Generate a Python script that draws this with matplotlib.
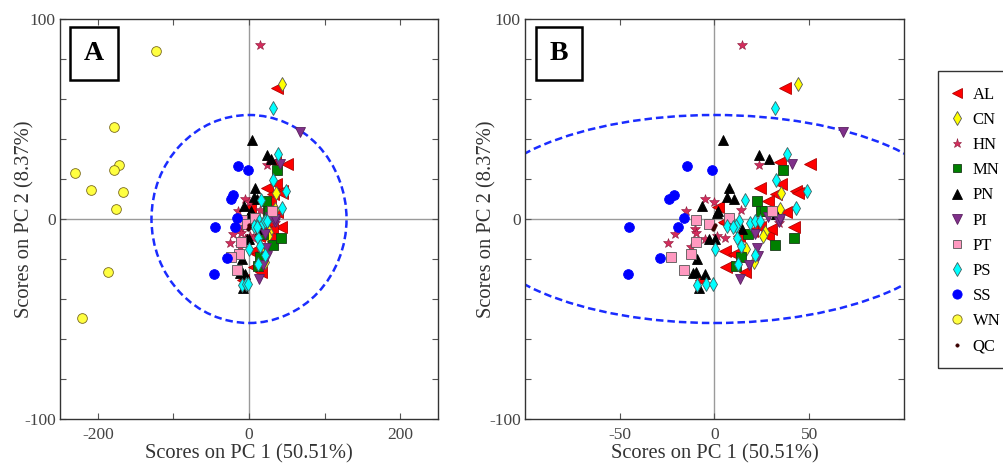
import numpy as np
import matplotlib
matplotlib.use("Agg")
import matplotlib.pyplot as plt
import matplotlib.patches as ptc

plt.rcParams['font.family'] = ['Liberation Serif', 'DejaVu Serif']
plt.rcParams['axes.unicode_minus'] = False

# PCA scores, one pair of lists per group (PC1, PC2)
al_x = [37.1, 34.4, 50.3, 24.0, 35.3, 43.0, 43.9, 32.4, 28.3, 37.5, 42.0, 1.9, 5.7, 4.9,
        5.5, 10.1, 6.0, 15.9, 23.8, 28.0, 12.8, -7.3, 20.0, 30.0]
al_y = [65.7, 28.4, 27.6, 15.6, 17.6, 14.2, 12.9, 12.5, 9.2, 3.7, -3.8, 5.8, -2.2, -1.7,
        -16.2, -17.6, -24.2, -26.3, -4.2, -8.4, -8.4, -30.3, -6.0, -5.0]
cn_x = [43.9, 35.3, 34.7, 26.9, 25.6, 16.5, 20.7]
cn_y = [67.7, 12.9, 5.0, -6.4, -8.4, -15.0, -21.7]
hn_x = [14.3, 23.6, -5.1, -0.4, -15.2, -24.7, -21.1, -10.1, -10.0, -12.5, -5.1, 1.1, 5.7, 13.9, 33.9]
hn_y = [87.0, 26.8, 9.9, 8.7, 3.8, -11.9, -7.5, -5.0, -6.8, -13.9, -9.9, -8.7, -9.5, 4.5, -2.2]
mn_x = [36.4, 22.3, 24.7, 26.5, 17.9, 32.0, 42.0, 14.1, 11.3]
mn_y = [24.7, 8.9, 3.8, 4.0, -7.5, -12.9, -9.7, -19.2, -23.7]
pn_x = [4.6, 23.6, 28.7, 7.9, 6.8, 10.1, -6.4, 1.5, 2.0, 14.6, 32.5, -2.7, 0.2, -9.0, -11.5,
        -9.5, -4.9, -8.2]
pn_y = [39.3, 31.8, 29.8, 15.6, 10.9, 10.0, 6.4, 3.0, 4.0, -5.0, 2.5, -10.0, -10.0, -20.0, -26.8,
        -26.5, -27.6, -34.6]
pi_x = [68.0, 40.8, 34.2, 28.3, 34.5, 21.4, 22.5, 23.2, 18.3, 13.3]
pi_y = [43.5, 27.3, -1.7, 1.0, 0.0, -7.5, -14.5, -18.4, -22.9, -29.8]
pt_x = [-9.7, -2.7, 7.5, -10.0, -12.6, -23.2, -16.3, 30.2]
pt_y = [-0.5, -2.5, 0.5, -11.4, -17.6, -18.9, -25.6, 4.2]
ps_x = [32.0, 38.0, 32.4, 49.0, 43.0, 16.3, 13.0, 11.2, 6.6, 18.8, 21.6, 11.9, 14.1, 21.2,
        12.4, 0.4, -9.3, -4.6, -0.7, 10.0, 24.0]
ps_y = [55.7, 32.6, 19.6, 13.9, 5.4, 9.7, -0.8, -3.3, -3.3, -2.2, -0.8, -9.7, -13.4, -17.9,
        -22.6, -15.0, -33.1, -32.3, -32.3, -4.0, -1.0]
ss_x = [-14.3, -1.5, -24.2, -21.4, -16.1, -19.0, -44.9, -28.8, -45.8]
ss_y = [26.4, 24.6, 10.0, 12.0, 0.3, -3.8, -3.8, -19.6, -27.6]
wn_x = [-122.6, -178.5, -229.9, -171.4, -178.5, -208.4, -166.6, -175.4, -185.9, -221.5]
wn_y = [84.0, 46.2, 22.9, 27.2, 24.7, 14.5, 13.7, 5.2, -26.7, -49.6]
qc_x = [-0.5, 0.3, -1.0]
qc_y = [-4.0, -3.0, -5.0]

# 95% confidence ellipse semi-axes
ell_a = 129
ell_b = 52

groups = [
    ('AL', al_x, al_y, dict(marker='<', ms=8, mfc='#ff0000', mec='#b00000', mew=0.6)),
    ('CN', cn_x, cn_y, dict(marker='d', ms=7.5, mfc='#ffff00', mec='#555555', mew=0.6)),
    ('HN', hn_x, hn_y, dict(marker='*', ms=7, mfc='#d42c5c', mec='#8a1a3a', mew=0.4)),
    ('MN', mn_x, mn_y, dict(marker='s', ms=6.5, mfc='#008000', mec='#1a3a1a', mew=0.6)),
    ('PN', pn_x, pn_y, dict(marker='^', ms=7.5, mfc='#000000', mec='#000000', mew=0.6)),
    ('PI', pi_x, pi_y, dict(marker='v', ms=7.5, mfc='#80308a', mec='#5a2060', mew=0.6)),
    ('PT', pt_x, pt_y, dict(marker='s', ms=6.5, mfc='#ff99c0', mec='#555555', mew=0.6)),
    ('PS', ps_x, ps_y, dict(marker='d', ms=7.5, mfc='#00ffff', mec='#406060', mew=0.6)),
    ('SS', ss_x, ss_y, dict(marker='o', ms=7, mfc='#0000ff', mec='#0000ff', mew=0.6)),
    ('WN', wn_x, wn_y, dict(marker='o', ms=7, mfc='#ffff40', mec='#7a6a20', mew=0.6)),
    ('QC', qc_x, qc_y, dict(marker='o', ms=2.5, mfc='#3a0000', mec='#3a0000', mew=0.5)),
]

fig = plt.figure(figsize=(10.04, 4.68), dpi=100)
axA = fig.add_axes([60/1004, 1-419/468, 378/1004, 400/468])
axB = fig.add_axes([525/1004, 1-419/468, 379/1004, 400/468])


def draw(ax, xlim, xt, xlab, letter, ylx):
    ax.axhline(0, color='#9a9a9a', lw=1, zorder=1)
    ax.axvline(0, color='#9a9a9a', lw=1, zorder=1)
    e = ptc.Ellipse((0, 0), 2*ell_a, 2*ell_b, fill=False, ls=(0, (3, 1.6)),
                    color='#1a2cff', lw=1.8, zorder=2)
    ax.add_patch(e)
    handles = []
    for name, gx, gy, st in groups:
        h, = ax.plot(gx, gy, ls='none', label=name, zorder=3, **st)
        handles.append(h)
    ax.set_xlim(*xlim)
    ax.set_ylim(-100, 100)
    ax.set_xticks(xt)
    ax.set_xticklabels(xlab)
    yt = np.arange(-100, 101, 20)
    ax.set_yticks(yt)
    ax.set_yticklabels(['-100' if v == -100 else '0' if v == 0 else '100' if v == 100 else ''
                        for v in yt])
    ax.tick_params(direction='in', top=True, right=True, length=4, width=0.8,
                   color='#555555', labelcolor='#444444', labelsize=12.5)
    ax.tick_params(axis='x', pad=6)
    ax.tick_params(axis='y', pad=3)
    for s in ax.spines.values():
        s.set_color('#333333')
        s.set_linewidth(1.0)
    ax.set_xlabel('Scores on PC 1 (50.51%)', fontsize=14.8, color='#333333', labelpad=1)
    ax.set_ylabel('Scores on PC 2 (8.37%)', fontsize=14.8, color='#333333')
    ax.yaxis.set_label_coords(ylx, 0.5)
    ax.text(0.09, 0.914, letter, transform=ax.transAxes, fontsize=20, fontweight='bold',
            ha='center', va='center', zorder=6,
            bbox=dict(boxstyle='square,pad=0.5', fc='white', ec='black', lw=1.8))
    return handles


draw(axA, (-250, 250), [-200, -100, 0, 100, 200], ['-200', '', '0', '', '200'], 'A', -0.068)
hs = draw(axB, (-100, 100), [-50, 0, 50], ['-50', '0', '50'], 'B', -0.075)

# legend at the right, frame runs off the edge
fig.patches.append(ptc.Rectangle((938/1004, 1-368/468), 80/1004, 297/468,
                                 transform=fig.transFigure, fill=False, ec='#333333',
                                 lw=1.0, clip_on=False))
fig.legend(handles=hs, loc='upper left', bbox_to_anchor=(940/1004, 1-80/468),
           frameon=False, fontsize=12, labelspacing=0.55, handletextpad=0.35,
           handlelength=1.2, borderaxespad=0, markerscale=0.95)

fig.savefig('out.png', dpi=100)
